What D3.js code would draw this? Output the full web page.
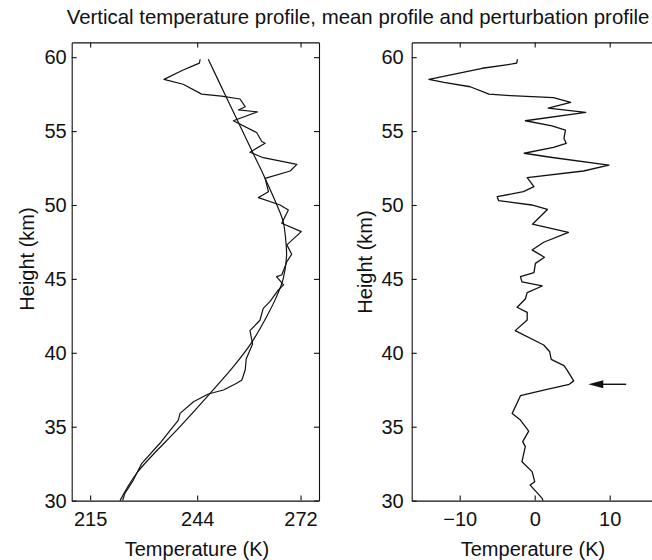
<!DOCTYPE html>
<html><head><meta charset="utf-8">
<script src="https://cdn.jsdelivr.net/npm/d3@7"></script>
<style>
body{margin:0;background:#fff}
text{font-family:"Liberation Sans",Arial,Helvetica,sans-serif;fill:#111}
</style>
</head><body>
<svg id="chart" width="652" height="560"></svg>
<script>
// ---- data ----
const chartTitle = "Vertical temperature profile, mean profile and perturbation profile";
const xTitle = "Temperature (K)";
const yTitle = "Height (km)";
const heightTicks = [30, 35, 40, 45, 50, 55, 60];
const tempTicks = [215, 244, 272];
const pertTicks = [-10, 0, 10];

// measured profile: [height km, temperature K]
const measuredProfile = [
  [59.86,244.8],[59.6,244.6],[59.43,243.0],[59.13,240.2],[58.5,235.0],[58.17,240.2],
  [57.5,245.2],[57.37,250.6],[57.17,255.6],[56.65,257.0],[56.43,255.2],[56.3,260.3],
  [55.7,253.8],[54.9,260.1],[54.3,261.5],[54.18,262.4],[53.57,258.3],[53.2,261.9],
  [52.75,271.0],[52.3,269.2],[51.8,262.4],[50.9,263.3],[50.5,260.6],[50.0,266.45],
  [49.66,268.7],[48.76,266.9],[48.2,272.2],[47.3,268.3],[46.67,269.6],[46.17,268.3],
  [45.26,266.9],[45.15,265.5],[44.6,267.4],[44.25,266.0],[43.46,263.7],[43.0,261.9],
  [42.2,261.0],[41.5,258.3],[40.6,259.0],[39.6,257.3],[38.84,257.0],[38.16,256.1],
  [37.94,254.7],[37.48,251.1],[37.21,247.0],[36.69,243.0],[35.9,239.35],[35.45,238.9],
  [34.44,235.7],[33.88,233.9],[32.52,229.0],[31.39,226.7],[30.49,224.4],[30.0,223.8]
];
// mean profile: [height km, temperature K]
const meanProfile = [
  [30.0,223.1],[31.85,227.6],[35.0,239.35],[37.26,247.5],[39.06,253.8],[40.6,258.5],
  [42.44,262.8],[43.8,265.5],[45.0,267.3],[46.5,268.2],[47.3,268.1],[48.87,267.3],
  [50.0,265.6],[51.8,262.4],[53.5,259.15],[55.75,254.85],[57.44,251.6],[59.86,247.0]
];
// perturbation profile: [height km, temperature K]
const perturbationProfile = [
  [59.86,-2.3],[59.6,-2.4],[59.54,-3.0],[59.25,-7.0],[59.07,-8.6],[58.5,-14.1],
  [58.3,-12.1],[58.0,-8.6],[57.5,-6.1],[57.4,-3.2],[57.26,2.5],[56.95,4.8],
  [56.55,1.8],[56.27,6.8],[55.7,-1.25],[55.35,2.3],[55.07,4.1],[54.5,3.9],
  [54.17,4.2],[53.9,2.5],[53.5,-1.4],[53.23,2.1],[52.7,9.9],[52.3,6.5],
  [51.85,-1.0],[51.24,-0.1],[50.9,-1.5],[50.56,-5.0],[50.29,-4.8],[50.0,-0.4],
  [49.7,1.7],[48.7,-0.3],[48.15,4.5],[47.48,1.2],[46.96,-0.35],[46.46,1.3],
  [46.05,0.1],[45.42,-0.1],[45.15,-1.9],[44.8,-1.7],[44.52,1.0],[44.07,-1.0],
  [43.64,-1.25],[43.08,-2.35],[42.74,-1.0],[42.22,-1.0],[41.5,-2.6],[40.53,1.2],
  [40.07,2.0],[39.56,2.2],[39.13,3.9],[38.84,4.3],[38.1,5.2],[37.87,4.6],
  [37.48,1.2],[37.1,-1.9],[36.65,-2.3],[35.9,-3.0],[35.45,-1.9],[34.7,-0.8],
  [33.99,-1.6],[33.65,-1.25],[32.63,-1.7],[31.96,-0.35],[31.28,0],[31.05,-0.6],
  [30.15,1.0],[30.0,1.1]
];
// annotation arrow (perturbation panel): height, from T', to T'
const arrowHeight = 37.87, arrowFromT = 12.2, arrowToT = 7.15;

// ---- drawing ----
const svg = d3.select("#chart");
const ink = "#111";
const yTop = 42.4, yBot = 500.6;
const y = d3.scaleLinear().domain([30, 61]).range([yBot, yTop]);
const xL = d3.scaleLinear().domain([210, 277]).range([71.7, 319]);
const xR = d3.scaleLinear().domain([-16.4, 16]).range([411.7, 654.7]);
const TICK = 5;

function styleAxis(g){
  g.selectAll("path.domain").attr("stroke", ink).attr("stroke-width", 1.1);
  g.selectAll(".tick line").attr("stroke", ink).attr("stroke-width", 1.1);
  g.selectAll(".tick text").attr("fill", ink)
    .style("font-family", '"Liberation Sans", Arial, sans-serif').style("font-size", "20px");
  g.attr("font-family", null).attr("font-size", null);
}

function panel(x, ticks, pad, frameRight, titleX){
  const [x0, x1] = x.range();
  svg.append("g").attr("transform", `translate(${x0},0)`)
    .call(d3.axisLeft(y).tickValues(heightTicks).tickSizeInner(-TICK).tickSizeOuter(0).tickPadding(pad).tickFormat(d3.format("d")))
    .call(styleAxis);
  svg.append("g").attr("transform", `translate(0,${yBot})`)
    .call(d3.axisBottom(x).tickValues(ticks).tickSizeInner(-TICK).tickSizeOuter(0).tickPadding(11))
    .call(styleAxis);
  svg.append("g").attr("transform", `translate(0,${yTop})`)
    .call(d3.axisTop(x).tickValues(ticks).tickSizeInner(-TICK).tickSizeOuter(0).tickFormat(""))
    .call(styleAxis);
  if (frameRight){
    svg.append("g").attr("transform", `translate(${x1},0)`)
      .call(d3.axisRight(y).tickValues(heightTicks).tickSizeInner(-TICK).tickSizeOuter(0).tickFormat(""))
      .call(styleAxis);
  }
  svg.append("text").attr("x", titleX).attr("y", 556)
    .attr("text-anchor", "middle").style("font-size", "20px").text(xTitle);
}

panel(xL, tempTicks, 5, true, 197);
panel(xR, pertTicks, 8, false, 533);

// y titles
[[34, 259], [372, 262]].forEach(([tx, ty]) => {
  svg.append("text").attr("transform", `translate(${tx},${ty}) rotate(-90)`)
    .attr("text-anchor", "middle").style("font-size", "20px").text(yTitle);
});

// title
svg.append("text").attr("x", 358).attr("y", 24).attr("text-anchor", "middle")
  .style("font-size", "20.4px").text(chartTitle);

// curves
const lineL = d3.line().x(d => xL(d[1])).y(d => y(d[0]));
const lineMean = d3.line().x(d => xL(d[1])).y(d => y(d[0])).curve(d3.curveCatmullRom);
const lineR = d3.line().x(d => xR(d[1])).y(d => y(d[0]));

svg.append("path").datum(meanProfile).attr("d", lineMean)
  .attr("fill", "none").attr("stroke", ink).attr("stroke-width", 1.2);
svg.append("path").datum(measuredProfile).attr("d", lineL)
  .attr("fill", "none").attr("stroke", ink).attr("stroke-width", 1.2).attr("stroke-linejoin", "round");
svg.append("path").datum(perturbationProfile).attr("d", lineR)
  .attr("fill", "none").attr("stroke", ink).attr("stroke-width", 1.3).attr("stroke-linejoin", "round");

// arrow
const ay = y(arrowHeight), ax0 = xR(arrowFromT), ax1 = xR(arrowToT);
svg.append("line").attr("x1", ax0).attr("y1", ay).attr("x2", ax1 + 12).attr("y2", ay)
  .attr("stroke", ink).attr("stroke-width", 1.4);
svg.append("path").attr("d", `M${ax1},${ay} L${ax1 + 15},${ay - 4} L${ax1 + 15},${ay + 4} Z`).attr("fill", ink);
</script>
</body></html>
